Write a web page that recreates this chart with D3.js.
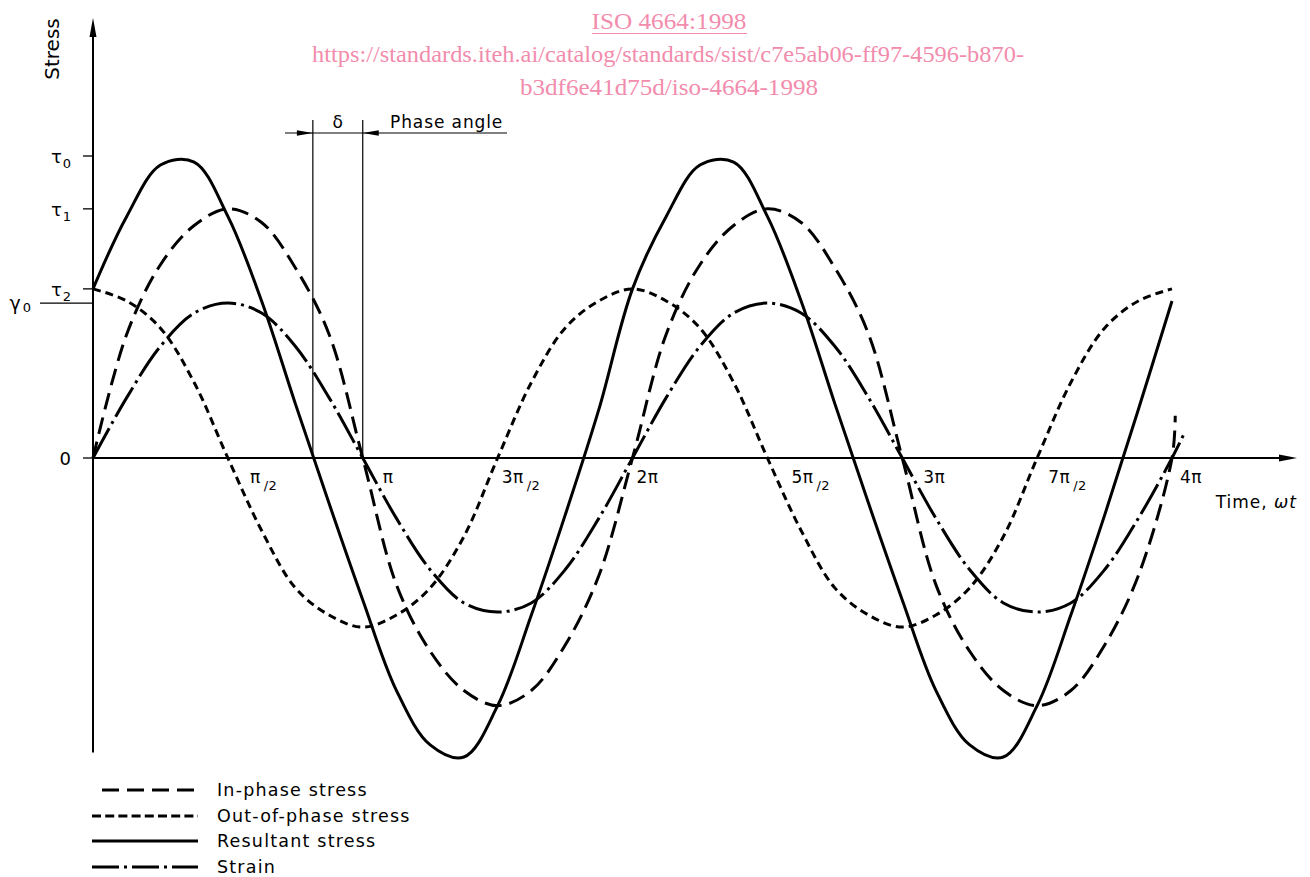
<!DOCTYPE html>
<html><head><meta charset="utf-8">
<script src="https://cdn.jsdelivr.net/npm/d3@7"></script>
<style>
body{margin:0;background:#fff}
svg{display:block}
text{font-family:"DejaVu Sans",sans-serif;fill:#000}
text.wm{font-family:"Liberation Serif","Times New Roman",serif;fill:#f28cad;font-size:24px}
</style>
</head><body>
<svg id="c" width="1310" height="877"></svg>
<script>
// ---- data (phase in multiples of π, stresses relative to τ0) ----
const phase = [0,0.125,0.25,0.375,0.5,0.625,0.75,0.875,1,1.125,1.25,1.375,1.5,1.625,1.75,1.875,2,
  2.125,2.25,2.375,2.5,2.625,2.75,2.875,3,3.125,3.25,3.375,3.5,3.625,3.75,3.875,4];
const inPhase = [0,0.41,0.64,0.77,0.825,0.78,0.63,0.41,0,-0.42,-0.64,-0.77,-0.82,-0.77,-0.62,-0.39,0,
  0.41,0.64,0.77,0.825,0.78,0.63,0.41,0,-0.42,-0.64,-0.77,-0.82,-0.77,-0.62,-0.39,0];
const outOfPhase = [0.56,0.52,0.43,0.25,0,-0.24,-0.43,-0.52,-0.56,-0.52,-0.43,-0.26,0,0.25,0.43,0.52,0.56,
  0.52,0.43,0.25,0,-0.24,-0.43,-0.52,-0.56,-0.52,-0.43,-0.26,0,0.25,0.43,0.52,0.56];
const resultant = [0.56,0.80,0.97,0.98,0.80,0.52,0.18,-0.15,-0.47,-0.77,-0.95,-0.99,-0.82,-0.52,-0.19,0.16,0.56,
  0.80,0.97,0.98,0.80,0.52,0.18,-0.15,-0.47,-0.77,-0.95,-0.99,-0.82,-0.52,-0.19,0.16,0.52];
const strain = [0,0.20,0.37,0.48,0.513,0.48,0.37,0.20,0,-0.20,-0.37,-0.48,-0.51,-0.48,-0.37,-0.20,0,
  0.20,0.37,0.48,0.513,0.48,0.37,0.20,0,-0.20,-0.37,-0.48,-0.51,-0.48,-0.37,-0.20,0];
const inPhaseTail = [[4.012,0.14]];
const strainTail = [[4.05,0.09]];
const phaseAngle = 0.185; // δ in multiples of π

const xTickValues = [0.5,1,1.5,2,2.5,3,3.5,4];
const xTickLabels = ["π/2","π","3π/2","2π","5π/2","3π","7π/2","4π"];
const yTickNames = ["τ0","τ1","τ2","0"];
const yTickValues = [1.0,0.825,0.56,0];
const strainLevelName = "γ0";
const strainLevel = 0.513;
const legendLabels = ["In-phase stress","Out-of-phase stress","Resultant stress","Strain"];

// ---- layout ----
const xLabelDx = [22,20,4,4,24,21,11,8];
const svg = d3.select("#c");
const x = d3.scaleLinear().domain([0,4]).range([93,1172]);
const y = d3.scaleLinear().domain([0,1]).range([458,156]);

// watermark
svg.append("text").attr("class","wm").attr("x",669).attr("y",29).attr("text-anchor","middle")
  .attr("textLength",155).attr("lengthAdjust","spacingAndGlyphs").text("ISO 4664:1998");
svg.append("line").attr("x1",592).attr("x2",747).attr("y1",33.5).attr("y2",33.5).attr("stroke","#f28cad").attr("stroke-width",1.2);
svg.append("text").attr("class","wm").attr("x",668).attr("y",62).attr("text-anchor","middle")
  .attr("textLength",712).attr("lengthAdjust","spacingAndGlyphs").text("https://standards.iteh.ai/catalog/standards/sist/c7e5ab06-ff97-4596-b870-");
svg.append("text").attr("class","wm").attr("x",669).attr("y",95).attr("text-anchor","middle")
  .attr("textLength",298).attr("lengthAdjust","spacingAndGlyphs").text("b3df6e41d75d/iso-4664-1998");

// axes
const ax = svg.append("g").attr("stroke","#000");
ax.append("line").attr("x1",x(0)).attr("x2",x(0)).attr("y1",y(-0.975)).attr("y2",30).attr("stroke-width",2);
ax.append("line").attr("x1",x(0)).attr("x2",1285).attr("y1",y(0)).attr("y2",y(0)).attr("stroke-width",2);
svg.append("path").attr("d",`M${x(0)},18 L${x(0)-3.5},37 L${x(0)+3.5},37 Z`).attr("fill","#000");
svg.append("path").attr("d",`M1297,${y(0)} L1279,${y(0)-3.5} L1279,${y(0)+3.5} Z`).attr("fill","#000");

// y ticks
yTickValues.forEach((v,i)=>{
  ax.append("line").attr("x1",x(0)-10).attr("x2",x(0)).attr("y1",y(v)).attr("y2",y(v)).attr("stroke-width",1.3);
  const name = yTickNames[i];
  const t = svg.append("text").attr("x",71).attr("y",y(v)+7).attr("text-anchor","end").style("font-size","18px");
  t.append("tspan").text(name[0]);
  if(name.length>1) t.append("tspan").attr("dx",1).attr("dy",5).style("font-size","13px").text(name.slice(1));
});
ax.append("line").attr("x1",40).attr("x2",x(0)).attr("y1",y(strainLevel)).attr("y2",y(strainLevel)).attr("stroke-width",1.3);
{
  const t = svg.append("text").attr("x",31).attr("y",y(strainLevel)+7).attr("text-anchor","end").style("font-size","19px");
  t.append("tspan").text(strainLevelName[0]);
  t.append("tspan").attr("dx",2).attr("dy",2).style("font-size","13px").text(strainLevelName.slice(1));
}

// x tick labels
xTickValues.forEach((v,i)=>{
  const lab = xTickLabels[i];
  const parts = lab.split("/");
  const t = svg.append("text").attr("x",x(v)+xLabelDx[i]).attr("y",483).style("font-size","17px").style("letter-spacing","0.5px");
  t.append("tspan").text(parts[0]);
  if(parts.length>1) t.append("tspan").attr("dx",3).attr("dy",7).style("font-size","13px").text("/"+parts[1]);
});

// axis titles
svg.append("text").attr("transform","translate(59,49) rotate(-90)").attr("text-anchor","middle").style("font-size","20px").text("Stress");
{
  const t = svg.append("text").attr("x",1297).attr("y",508).attr("text-anchor","end").style("font-size","17px").style("letter-spacing","1px");
  t.append("tspan").text("Time, ");
  t.append("tspan").style("font-style","italic").text("ωt");
}

// phase angle annotation
const xa = x(1-phaseAngle), xb = x(1);
const an = svg.append("g").attr("stroke","#000").attr("stroke-width",1.2);
an.append("line").attr("x1",xa).attr("x2",xa).attr("y1",120).attr("y2",y(0));
an.append("line").attr("x1",xb).attr("x2",xb).attr("y1",120).attr("y2",y(0));
an.append("line").attr("x1",285).attr("x2",507).attr("y1",133).attr("y2",133);
svg.append("path").attr("d",`M${xa},133 L${xa-16},130.3 L${xa-16},135.7 Z`).attr("fill","#000");
svg.append("path").attr("d",`M${xb},133 L${xb+16},130.3 L${xb+16},135.7 Z`).attr("fill","#000");
svg.append("text").attr("x",(xa+xb)/2).attr("y",128).attr("text-anchor","middle").style("font-size","17px").text("δ");
svg.append("text").attr("x",390).attr("y",128).style("font-size","17px").style("letter-spacing","0.9px").text("Phase angle");

// curves
const styles = [
  {data: phase.map((p,i)=>[p,inPhase[i]]).concat(inPhaseTail), dash:"17,8"},
  {data: phase.map((p,i)=>[p,outOfPhase[i]]), dash:"8,5"},
  {data: phase.map((p,i)=>[p,resultant[i]]), dash:null},
  {data: phase.map((p,i)=>[p,strain[i]]).concat(strainTail), dash:"34,5,3,5"}
];
const line = d3.line().x(d=>x(d[0])).y(d=>y(d[1])).curve(d3.curveCatmullRom.alpha(0.5));
styles.forEach(s=>{
  svg.append("path").attr("d",line(s.data)).attr("fill","none").attr("stroke","#000")
    .attr("stroke-width",3).attr("stroke-dasharray",s.dash);
});

// legend
const legY = [790,816,841,867];
const legStart = [102,92,92,92];
const legDash = ["17,8","9,4.2",null,"27,5,3,5"];
legendLabels.forEach((lab,i)=>{
  svg.append("line").attr("x1",legStart[i]).attr("x2",198).attr("y1",legY[i]).attr("y2",legY[i])
    .attr("stroke","#000").attr("stroke-width",3).attr("stroke-dasharray",legDash[i]);
  svg.append("text").attr("x",217).attr("y",legY[i]+6).style("font-size","17.5px").style("letter-spacing","1.2px").text(lab);
});
</script>
</body></html>
